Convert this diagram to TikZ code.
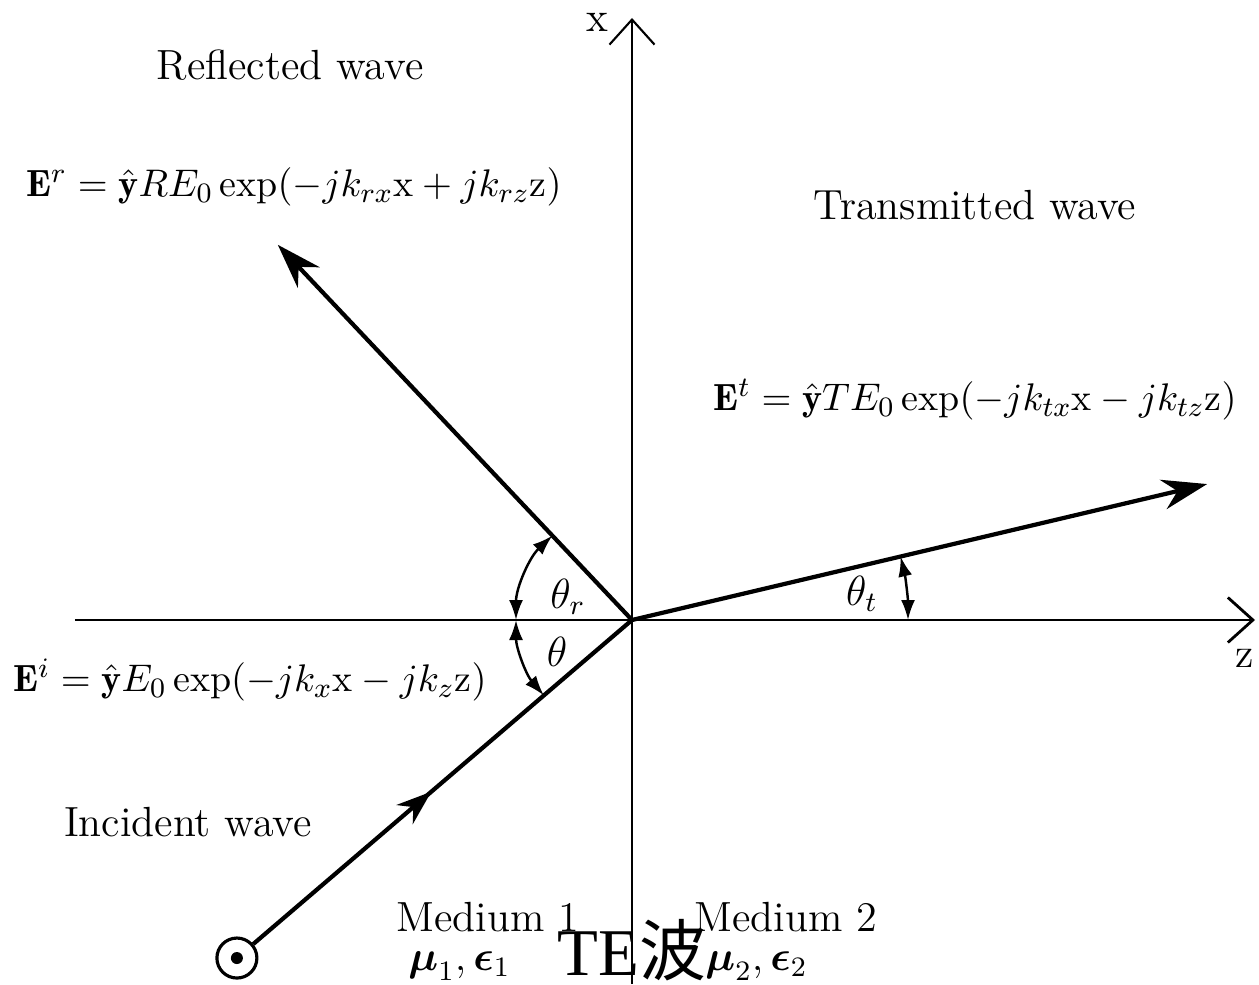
\documentclass[tikz,border=0pt]{standalone}
\usepackage{fontspec}
\usepackage{amsmath}
\newfontfamily\cjk{Noto Sans CJK SC}
\newfontfamily\tefont{Liberation Serif}
\usetikzlibrary{arrows.meta,decorations.markings}

\begin{document}
\begin{tikzpicture}[>=Latex,every node/.style={font=\fontsize{12}{14}\selectfont},
  eqn/.style={font=\fontsize{10.8}{13}\selectfont},
  axis/.style={-{Straight Barb[length=2.5mm,width=4.5mm]},line width=.8pt},
  ray/.style={line width=1.2pt},
  angarrow/.style={{Latex[length=2mm,width=1.4mm]}-{Latex[length=2mm,width=1.4mm]},line width=.7pt}]
  \useasboundingbox (-6.32,-3.64) rectangle (6.27,6.20);
  \coordinate (O) at (0,0);
  \coordinate (zend) at (6.23,0);
  \coordinate (xend) at (0,6.02);
  \coordinate (refl) at (133.35:5.16);
  \coordinate (trans) at (13.3:5.91);
  \node[circle,draw,line width=.9pt,minimum size=4mm,inner sep=0pt] (src) at (220.55:5.20) {};
  \fill (src) circle (.6mm);
  % axes
  \draw[axis] (-5.57,0) -- (zend);
  \draw[axis,line width=.6pt] (0,-3.64) -- (xend);
  \node at (-.35,5.98) {x};
  \node at (6.13,-.38) {z};
  % waves
  \draw[ray,-{Stealth[length=4.5mm,width=3mm]}] (O) -- (refl);
  \draw[ray,-{Stealth[length=4.5mm,width=3mm]}] (O) -- (trans);
  \draw[ray,decoration={markings,mark=at position .47 with {\arrow{Stealth[length=3.5mm,width=2.5mm]}}},
    postaction={decorate}] (src) -- (O);
  % angles
  \draw[angarrow] ([shift={(133.35:1.16)}]O) arc[start angle=133.35,end angle=180,radius=1.16];
  \draw[angarrow] ([shift={(180:1.16)}]O) arc[start angle=180,end angle=220.55,radius=1.16];
  \draw[angarrow] ([shift={(13.3:2.76)}]O) arc[start angle=13.3,end angle=0,radius=2.76];
  \node (thr) at (-.64,.23) {$\theta_r$};
  \node (thi) at (-.75,-.32) {$\theta$};
  \node (tht) at (2.30,.26) {$\theta_t$};
  % labels
  \node (rlab) at (-3.42,5.55) {Reflected wave};
  \node[eqn] (rfld) at (-3.38,4.33) {$\mathbf{E}^r = \hat{\mathbf{y}}RE_0\exp(-jk_{rx}\mathrm{x} + jk_{rz}\mathrm{z})$};
  \node (tlab) at (3.43,4.15) {Transmitted wave};
  \node[eqn] (tfld) at (3.43,2.20) {$\mathbf{E}^t = \hat{\mathbf{y}}TE_0\exp(-jk_{tx}\mathrm{x} - jk_{tz}\mathrm{z})$};
  \node[eqn] (ifld) at (-3.82,-.60) {$\mathbf{E}^i = \hat{\mathbf{y}}E_0\exp(-jk_x\mathrm{x} - jk_z\mathrm{z})$};
  \node (ilab) at (-4.44,-2.02) {Incident wave};
  \node (med1) at (-1.44,-2.97) {Medium 1};
  \node[anchor=west] (par1) at (-2.36,-3.46) {$\boldsymbol{\mu}_1, \boldsymbol{\epsilon}_1$};
  \node (med2) at (1.54,-2.97) {Medium 2};
  \node[anchor=west] (par2) at (.61,-3.46) {$\boldsymbol{\mu}_2, \boldsymbol{\epsilon}_2$};
  \node[font=\fontsize{19}{21}\selectfont] (title) at (0,-3.30) {\tefont TE\cjk 波};
\end{tikzpicture}
\end{document}
